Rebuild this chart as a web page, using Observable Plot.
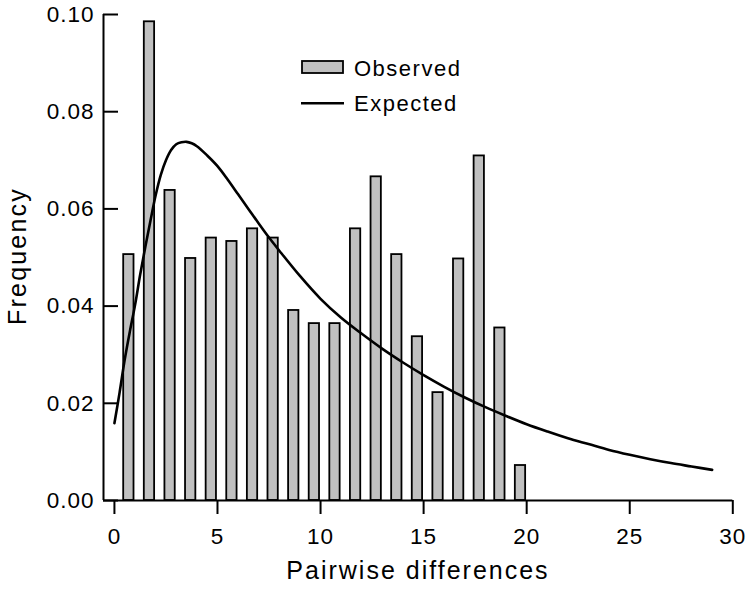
<!DOCTYPE html>
<html><head><meta charset="utf-8">
<script src="https://cdn.jsdelivr.net/npm/d3@7"></script>
<script src="https://cdn.jsdelivr.net/npm/@observablehq/plot@0.6"></script>
<style>
html,body{margin:0;padding:0;background:#fff;}
#chart{position:relative;width:750px;height:590px;}
#chart svg text{letter-spacing:1px;}
</style></head><body><div id="chart"></div>
<script>
// ---- data ----
const differences = [1,2,3,4,5,6,7,8,9,10,11,12,13,14,15,16,17,18,19,20];
const observed = [0.0506,0.0985,0.0638,0.0498,0.0540,0.0533,0.0559,0.0540,0.0391,0.0364,
                  0.0364,0.0559,0.0666,0.0506,0.0337,0.0222,0.0497,0.0709,0.0355,0.0072];
const expectedX = [0,0.25,0.5,0.75,1,1.25,1.5,1.75,2,2.25,2.5,2.75,3,3.25,3.5,3.75,4,4.5,5,5.5,6,6.5,7,7.5,8,
                   9,10,11,12,13,14,15,16,17,18,19,20,21,22,23,24,25,26,27,28,29];
const expectedY = [0.0159,0.0222,0.0290,0.0348,0.0402,0.0465,0.0522,0.0576,0.0628,0.0670,0.0700,0.0721,0.0733,0.0737,0.0738,0.0735,0.0729,0.0710,0.0688,0.0660,0.0630,0.0600,0.0570,0.0541,0.0514,
                   0.0462,0.0415,0.0376,0.0343,0.0312,0.0284,0.0258,0.0234,0.0212,0.0192,0.0174,0.0157,0.0142,0.0128,0.0116,0.0104,0.0094,0.0085,0.0077,0.0070,0.0063];
const xTicks = [0,5,10,15,20,25,30];
const yTicks = [0,0.02,0.04,0.06,0.08,0.10];
const seriesNames = ["Observed","Expected"];
const xTitle = "Pairwise differences";
const yTitle = "Frequency";

// ---- tables built from the arrays ----
const bars = differences.map((d,i)=>({x:d, v:observed[i]}));
const curve = expectedX.map((x,i)=>({x, y:expectedY[i]}));

const W = 750, H = 590;
const mL = 103, mR = 17.7, mT = 14, mB = 90;
const xDomain = [-0.53, 30];
const yDomain = [0, 0.1];
const font = "'Liberation Sans', Arial, Helvetica, sans-serif";

const plot = Plot.plot({
  width: W, height: H,
  marginLeft: mL, marginRight: mR, marginTop: mT, marginBottom: mB,
  style: {fontFamily: font, color: "#000", background: "#fff"},
  x: {domain: xDomain},
  y: {domain: yDomain},
  marks: [
    Plot.rectY(bars, {x1: d => d.x - 0.55, x2: d => d.x - 0.05, y: "v",
      fill: "#c0c0c0", stroke: "#000", strokeWidth: 1.8}),
    Plot.line(curve, {x: "x", y: "y", curve: "catmull-rom", stroke: "#000", strokeWidth: 2.6}),
    Plot.ruleY([yDomain[0]], {stroke: "#000", strokeWidth: 2}),
    Plot.ruleX([xDomain[0]], {stroke: "#000", strokeWidth: 2}),
    Plot.ruleY(yTicks, {y: d => d, x1: () => xDomain[0], x2: () => xDomain[0], insetRight: -15,
      stroke: "#000", strokeWidth: 2}),
    Plot.axisX({ticks: xTicks, tickSize: 14, tickPadding: 14, fontSize: 22.5, label: null, strokeWidth: 2}),
    Plot.axisY({ticks: yTicks, tickSize: 0, tickPadding: 9, fontSize: 22.5, label: null,
      tickFormat: d3.format(".2f")})
  ]
});
document.getElementById("chart").appendChild(plot);

// ---- titles and legend ----
const svg = d3.select(plot);
svg.append("text").text(xTitle)
  .attr("x", 418).attr("y", 578.5).attr("text-anchor", "middle")
  .style("font-family", font).style("font-size", "25px").style("letter-spacing", "2px").attr("fill", "#000");
svg.append("text").text(yTitle)
  .attr("transform", "translate(25.5,256) rotate(-90)").attr("text-anchor", "middle")
  .style("font-family", font).style("font-size", "25px").style("letter-spacing", "2.2px").attr("fill", "#000");

const lg = svg.append("g").attr("text-anchor", "start");
lg.append("rect").attr("x", 302).attr("y", 61).attr("width", 41).attr("height", 12)
  .attr("fill", "#c0c0c0").attr("stroke", "#000").attr("stroke-width", 1.8);
lg.append("text").text(seriesNames[0]).attr("x", 354).attr("y", 76).attr("text-anchor", "start")
  .style("font-family", font).style("font-size", "22px").style("letter-spacing", "1.5px").attr("fill", "#000");
lg.append("line").attr("x1", 301).attr("x2", 344).attr("y1", 103.3).attr("y2", 103.3)
  .attr("stroke", "#000").attr("stroke-width", 2.6);
lg.append("text").text(seriesNames[1]).attr("x", 354).attr("y", 111).attr("text-anchor", "start")
  .style("font-family", font).style("font-size", "22px").style("letter-spacing", "1.5px").attr("fill", "#000");
</script></body></html>
